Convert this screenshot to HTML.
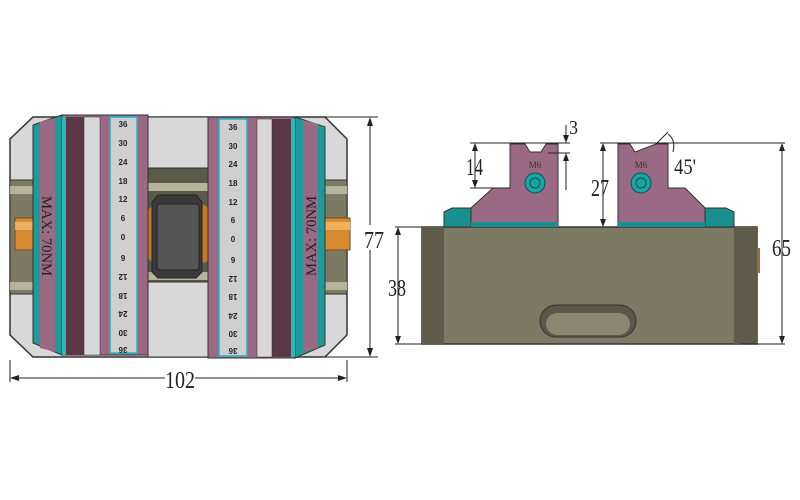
<!DOCTYPE html>
<html><head><meta charset="utf-8"><style>body{margin:0;background:#fff}svg{display:block}</style></head><body>
<svg width="800" height="500" viewBox="0 0 800 500" xmlns="http://www.w3.org/2000/svg" font-family="Liberation Serif, serif">
<!-- LEFT VIEW -->
<polygon points="33,117 325,117 347,139 347,335 325,357 33,357 10,335 10,139" fill="#d8d8d8" stroke="#333" stroke-width="1.5"/>
<rect x="10" y="180" width="337" height="114" fill="#7d7a63" stroke="#333"/>
<rect x="10" y="186" width="337" height="8" fill="#b5b39c"/>
<rect x="10" y="282" width="337" height="8" fill="#b5b39c"/>
<rect x="15" y="218" width="20" height="32" fill="#d88a30" stroke="#6a4a20"/>
<rect x="322" y="218" width="28" height="32" fill="#d88a30" stroke="#6a4a20"/>
<rect x="15" y="222" width="20" height="8" fill="#f0b060"/>
<rect x="322" y="222" width="28" height="8" fill="#f0b060"/>
<!-- center -->
<rect x="148" y="117" width="60" height="240" fill="#d8d8d8" stroke="#333"/>
<rect x="148" y="168" width="60" height="114" fill="#5a5a48" stroke="#333"/>
<rect x="148" y="183" width="60" height="8" fill="#b5b39c"/>
<rect x="148" y="272" width="60" height="8" fill="#b5b39c"/>
<rect x="148" y="205" width="62" height="58" rx="8" fill="#c77a20"/>
<polygon points="158,195 196,195 202,202 202,272 196,278 158,278 152,272 152,202" fill="#3a3a3a" stroke="#222"/>
<rect x="157" y="204" width="42" height="66" rx="3" fill="#555" stroke="#222"/>
<!-- left jaw -->
<polygon points="62,115 62,355 33,343 33,125" fill="#1f9a9a" stroke="#333"/>
<polygon points="40,122 55,118 55,352 40,348" fill="#9a6a84"/>
<rect x="62" y="115" width="86" height="240" fill="#9a6a84" stroke="#333"/>
<rect x="62" y="117" width="4" height="238" fill="#2ab8b8"/>
<rect x="66" y="117" width="18" height="238" fill="#5a3848"/>
<rect x="84" y="117" width="16" height="238" fill="#d8d8d8" stroke="#333" stroke-width=".5"/>
<rect x="110" y="117" width="27" height="236" fill="#cfcfcf" stroke="#1fb8c0" stroke-width="1.5"/>
<!-- right jaw -->
<polygon points="295,117 295,358 325,345 325,127" fill="#1f9a9a" stroke="#333"/>
<polygon points="303,120 318,124 318,348 303,352" fill="#9a6a84"/>
<rect x="208" y="117" width="87" height="241" fill="#9a6a84" stroke="#333"/>
<rect x="291" y="119" width="4" height="238" fill="#2ab8b8"/>
<rect x="272" y="119" width="19" height="238" fill="#5a3848"/>
<rect x="257" y="119" width="15" height="238" fill="#d8d8d8" stroke="#333" stroke-width=".5"/>
<rect x="219" y="119" width="28" height="237" fill="#cfcfcf" stroke="#1fb8c0" stroke-width="1.5"/>
<g font-family="Liberation Sans, sans-serif" font-size="8" font-weight="bold" fill="#222" text-anchor="middle">
<text x="123" y="127">36</text><text x="123" y="146">30</text><text x="123" y="165">24</text><text x="123" y="184">18</text><text x="123" y="202">12</text><text x="123" y="221">6</text><text x="123" y="240">0</text>
<g transform="rotate(180 123 258)"><text x="123" y="261">6</text></g>
<g transform="rotate(180 123 277)"><text x="123" y="280">12</text></g>
<g transform="rotate(180 123 296)"><text x="123" y="299">18</text></g>
<g transform="rotate(180 123 314)"><text x="123" y="317">24</text></g>
<g transform="rotate(180 123 333)"><text x="123" y="336">30</text></g>
<g transform="rotate(180 123 350)"><text x="123" y="353">36</text></g>
<text x="233" y="130">36</text><text x="233" y="149">30</text><text x="233" y="167">24</text><text x="233" y="186">18</text><text x="233" y="205">12</text><text x="233" y="223">6</text><text x="233" y="242">0</text>
<g transform="rotate(180 233 260)"><text x="233" y="263">6</text></g>
<g transform="rotate(180 233 279)"><text x="233" y="282">12</text></g>
<g transform="rotate(180 233 297)"><text x="233" y="300">18</text></g>
<g transform="rotate(180 233 316)"><text x="233" y="319">24</text></g>
<g transform="rotate(180 233 334)"><text x="233" y="337">30</text></g>
<g transform="rotate(180 233 351)"><text x="233" y="354">36</text></g>
</g>
<text transform="translate(42,236) rotate(90)" font-size="15" text-anchor="middle" fill="#222" textLength="80" lengthAdjust="spacingAndGlyphs">MAX: 70NM</text>
<text transform="translate(316,236) rotate(-90)" font-size="15" text-anchor="middle" fill="#222" textLength="80" lengthAdjust="spacingAndGlyphs">MAX: 70NM</text>
<!-- dims left -->
<g stroke="#222" stroke-width="1" fill="none">
<line x1="325" y1="117" x2="378" y2="117"/><line x1="325" y1="357" x2="378" y2="357"/>
<line x1="370" y1="119" x2="370" y2="225"/><line x1="370" y1="250" x2="370" y2="355"/>
<line x1="10" y1="360" x2="10" y2="382"/><line x1="347" y1="360" x2="347" y2="382"/>
<line x1="12" y1="378" x2="165" y2="378"/><line x1="195" y1="378" x2="345" y2="378"/>
</g>
<g fill="#222"><polygon points="370,117 367,126 373,126"/><polygon points="370,357 367,348 373,348"/><polygon points="10,378 19,375 19,381"/><polygon points="347,378 338,375 338,381"/></g>
<g font-size="24" fill="#222" lengthAdjust="spacingAndGlyphs">
<text x="364" y="248" textLength="20" lengthAdjust="spacingAndGlyphs">77</text>
<text x="165" y="388" textLength="30" lengthAdjust="spacingAndGlyphs">102</text>
</g>
<!-- RIGHT VIEW -->
<rect x="422" y="227" width="335" height="117" fill="#7d7a63" stroke="#333" stroke-width="1.5"/>
<rect x="422" y="227" width="22" height="117" fill="#5e5b4a"/>
<rect x="734" y="227" width="23" height="117" fill="#5e5b4a"/>
<rect x="757" y="248" width="3" height="25" fill="#9a6a40"/>
<rect x="540" y="305" width="96" height="32" rx="16" fill="#5a5748" stroke="#333"/>
<rect x="546" y="313" width="84" height="22" rx="11" fill="#8a8770"/>
<polygon points="444,212 452,208 473,208 473,227 444,227" fill="#1a8f8f" stroke="#333"/>
<polygon points="734,212 726,208 705,208 705,227 734,227" fill="#1a8f8f" stroke="#333"/>
<polygon points="520,144 525,144 530,152 541,152 546,144 558,144 558,226 471,226 471,208 493,188 510,188 510,144" fill="#9a6a84" stroke="#333"/>
<polygon points="618,144 630,144 635,152 656,144 668,144 668,188 685,188 705,208 705,226 618,226" fill="#9a6a84" stroke="#333"/>
<rect x="471" y="222" width="87" height="5" fill="#1a8f8f"/>
<rect x="618" y="222" width="87" height="5" fill="#1a8f8f"/>
<g fill="#1aa5a5" stroke="#0a5050"><circle cx="535" cy="183" r="10"/><circle cx="535" cy="183" r="5"/><circle cx="641" cy="183" r="10"/><circle cx="641" cy="183" r="5"/></g>
<text x="535" y="168" font-size="9" text-anchor="middle" fill="#333">M6</text>
<text x="641" y="168" font-size="9" text-anchor="middle" fill="#333">M6</text>
<g stroke="#222" stroke-width="1" fill="none">
<line x1="470" y1="143" x2="570" y2="143"/><line x1="470" y1="188" x2="510" y2="188"/>
<line x1="475" y1="146" x2="475" y2="185"/>
<line x1="548" y1="153" x2="570" y2="153"/><line x1="566" y1="125" x2="566" y2="141"/><line x1="566" y1="155" x2="566" y2="190"/>
<line x1="600" y1="143" x2="785" y2="143"/><line x1="603" y1="146" x2="603" y2="225"/>
<line x1="740" y1="344" x2="785" y2="344"/><line x1="782" y1="146" x2="782" y2="341"/>
<line x1="395" y1="227" x2="422" y2="227"/><line x1="395" y1="344" x2="422" y2="344"/><line x1="398" y1="230" x2="398" y2="341"/>
<line x1="656" y1="144" x2="668" y2="132"/><path d="M668,134 Q676,140 673,152"/>
</g>
<g fill="#222"><polygon points="475,143 472,151 478,151"/><polygon points="475,188 472,180 478,180"/>
<polygon points="566,143 563,135 569,135"/><polygon points="566,153 563,161 569,161"/>
<polygon points="603,143 600,151 606,151"/><polygon points="603,227 600,219 606,219"/>
<polygon points="782,143 779,151 785,151"/><polygon points="782,344 779,336 785,336"/>
<polygon points="398,227 395,235 401,235"/><polygon points="398,344 395,336 401,336"/></g>
<g font-size="24" fill="#222">
<text x="466" y="175" textLength="17" lengthAdjust="spacingAndGlyphs">14</text>
<text x="569" y="134" font-size="20" textLength="9" lengthAdjust="spacingAndGlyphs">3</text>
<text x="591" y="196" textLength="18" lengthAdjust="spacingAndGlyphs">27</text>
<text x="674" y="174" font-size="22" textLength="22" lengthAdjust="spacingAndGlyphs">45'</text>
<text x="772" y="256" textLength="19" lengthAdjust="spacingAndGlyphs">65</text>
<text x="388" y="296" textLength="18" lengthAdjust="spacingAndGlyphs">38</text></g>
</svg>
</body></html>
